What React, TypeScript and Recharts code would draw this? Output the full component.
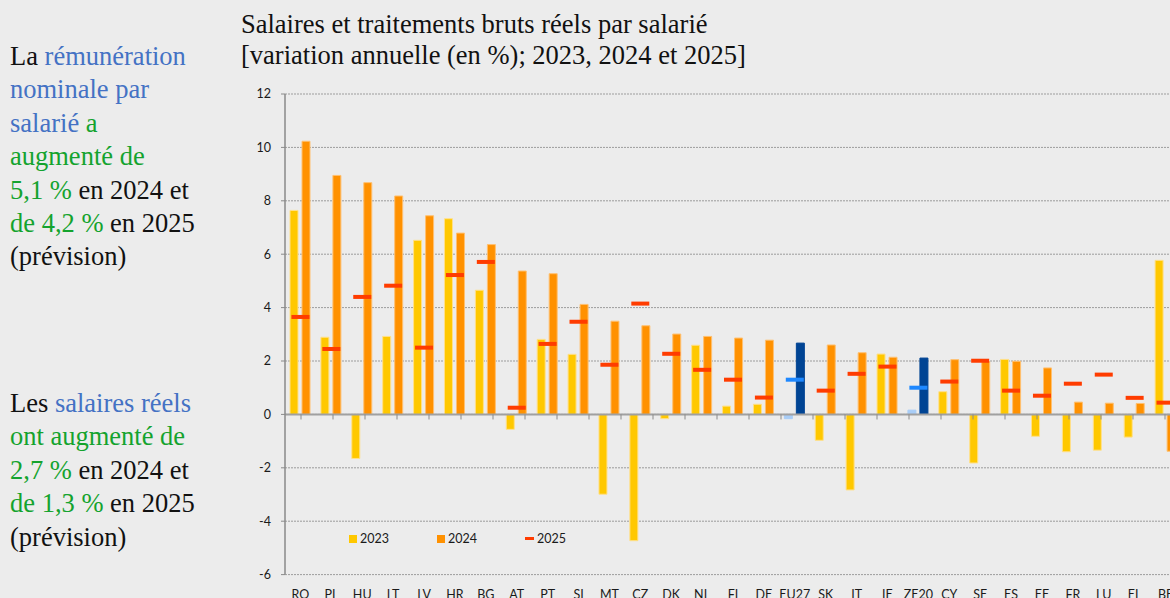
import {
  ComposedChart,
  Bar,
  Line,
  Cell,
  XAxis,
  YAxis,
  CartesianGrid,
  ReferenceLine,
} from 'recharts';

const categories = [
  'RO', 'PL', 'HU', 'LT', 'LV', 'HR', 'BG', 'AT', 'PT', 'SI', 'MT', 'CZ', 'DK', 'NL', 'FI',
  'DE', 'EU27', 'SK', 'IT', 'IE', 'ZE20', 'CY', 'SE', 'ES', 'EE', 'FR', 'LU', 'EL', 'BE',
];
const growth2023 = [
  7.64, 2.89, -1.65, 2.92, 6.52, 7.33, 4.65, -0.56, 2.81, 2.25, -2.99, -4.73, -0.16, 2.59, 0.31,
  0.38, -0.16, -0.97, -2.83, 2.26, 0.16, 0.85, -1.82, 2.06, -0.82, -1.4, -1.34, -0.85, 5.77,
];
const growth2024 = [
  10.23, 8.95, 8.68, 8.18, 7.44, 6.79, 6.36, 5.37, 5.27, 4.12, 3.49, 3.32, 3.01, 2.92, 2.86,
  2.78, 2.67, 2.6, 2.31, 2.14, 2.11, 2.05, 1.98, 1.99, 1.74, 0.46, 0.42, 0.41, -1.38,
];
const growth2025 = [
  3.65, 2.45, 4.4, 4.82, 2.5, 5.22, 5.71, 0.25, 2.64, 3.47, 1.86, 4.15, 2.27, 1.67, 1.3,
  0.63, 1.3, 0.89, 1.52, 1.79, 1.0, 1.23, 2.01, 0.89, 0.7, 1.15, 1.49, 0.62, 0.44,
];
const aggregates = ['EU27', 'ZE20'];
const yTicks = [-6, -4, -2, 0, 2, 4, 6, 8, 10, 12];
const legendLabels = ['2023', '2024', '2025'];

const data = categories.map((c, i) => ({
  name: c,
  y2023: growth2023[i],
  y2024: growth2024[i],
  y2025: growth2025[i],
}));

// tick marks between categories on the zero line (hidden numeric axis)
const boundaries = categories.slice(1).map((_, i) => i + 0.5);

const YELLOW = '#ffc800';
const ORANGE = '#ff9100';
const RED = '#ff3c00';
const LIGHT_BLUE = '#a8cdf7';
const DARK_BLUE = '#004494';
const MID_BLUE = '#1e88ff';
const BLUE_TXT = '#4472c4';
const GREEN_TXT = '#14a32e';

const isAgg = (name: string) => aggregates.includes(name);

function Dash(props: any) {
  const { cx, cy, payload, index } = props;
  if (cx == null || cy == null) return <g key={index} />;
  return (
    <rect
      key={index}
      x={cx - 9}
      y={cy - 2}
      width={18}
      height={4}
      fill={isAgg(payload.name) ? MID_BLUE : RED}
    />
  );
}

function LegendBox() {
  const swatches = [
    <div style={{ width: 8, height: 8, background: YELLOW }} />,
    <div style={{ width: 8, height: 8, background: ORANGE }} />,
    <div style={{ width: 9, height: 3, background: RED }} />,
  ];
  return (
    <div
      style={{
        position: 'absolute',
        left: 349,
        top: 531,
        display: 'flex',
        fontFamily: 'Lato',
        fontSize: 12.5,
        color: '#1a1a1a',
      }}
    >
      {legendLabels.map((l, i) => (
        <div key={l} style={{ display: 'flex', alignItems: 'center', width: 88 }}>
          {swatches[i]}
          <span style={{ marginLeft: 3 }}>{l}</span>
        </div>
      ))}
    </div>
  );
}

const blue = (t: string) => <span style={{ color: BLUE_TXT }}>{t}</span>;
const green = (t: string) => <span style={{ color: GREEN_TXT }}>{t}</span>;

const serif = {
  fontFamily: '"Liberation Serif", "Times New Roman", serif',
  fontSize: 26.5,
  color: '#111',
};

export default function App() {
  return (
    <div
      style={{
        position: 'absolute',
        left: 0,
        top: 0,
        width: 1170,
        height: 598,
        overflow: 'hidden',
        background: '#ececec',
      }}
    >
      <div style={{ ...serif, position: 'absolute', left: 241, top: 9, lineHeight: '30.5px', whiteSpace: 'nowrap' }}>
        Salaires et traitements bruts réels par salarié
        <br />
        [variation annuelle (en %); 2023, 2024 et 2025]
      </div>

      <div style={{ ...serif, position: 'absolute', left: 10, top: 40, lineHeight: '33.4px', whiteSpace: 'nowrap' }}>
        La {blue('rémunération')}
        <br />
        {blue('nominale par')}
        <br />
        {blue('salarié')} {green('a')}
        <br />
        {green('augmenté de')}
        <br />
        {green('5,1\u00a0%')} en 2024 et
        <br />
        {green('de 4,2\u00a0%')} en 2025
        <br />
        (prévision)
      </div>

      <div style={{ ...serif, position: 'absolute', left: 10, top: 387, lineHeight: '33.4px', whiteSpace: 'nowrap' }}>
        Les {blue('salaires réels')}
        <br />
        {green('ont augmenté de')}
        <br />
        {green('2,7\u00a0%')} en 2024 et
        <br />
        {green('de 1,3\u00a0%')} en 2025
        <br />
        (prévision)
      </div>

      <ComposedChart
        width={1185}
        height={598}
        data={data}
        margin={{ top: 94, right: 4, bottom: 0, left: 0 }}
        style={{ position: 'absolute', left: 0, top: 0, fontFamily: 'Lato' }}
      >
        <CartesianGrid vertical={false} stroke="#9c9c9c" strokeDasharray="2 1" />
        <XAxis
          dataKey="name"
          height={23.4}
          axisLine={false}
          tickLine={false}
          tickSize={0}
          tickMargin={16}
          interval={0}
          tick={{ fill: '#1a1a1a', fontSize: 12.5 }}
        />
        <XAxis xAxisId="num" type="number" domain={[-0.5, categories.length - 0.5]} allowDataOverflow hide />
        <YAxis
          width={285}
          domain={[-6, 12]}
          ticks={yTicks}
          interval={0}
          axisLine={{ stroke: '#8a8a8a', strokeWidth: 1.5 }}
          tickLine={{ stroke: '#8a8a8a' }}
          tickSize={4}
          tickMargin={10}
          tick={{ fill: '#1a1a1a', fontSize: 12.5 }}
        />
        <ReferenceLine y={0} stroke="#a0a0a0" strokeWidth={2} />
        {boundaries.map((b) => (
          <ReferenceLine
            key={b}
            xAxisId="num"
            segment={[{ x: b, y: 0 }, { x: b, y: -0.19 }]}
            stroke="#8a8a8a"
            strokeWidth={1}
          />
        ))}
        <Bar dataKey="y2023" barSize={8} stroke="#ffe08a" strokeWidth={1} isAnimationActive={false}>
          {data.map((d) => (
            <Cell key={d.name} fill={isAgg(d.name) ? LIGHT_BLUE : YELLOW} stroke={isAgg(d.name) ? LIGHT_BLUE : '#ffe08a'} />
          ))}
        </Bar>
        <Bar dataKey="y2024" barSize={8} stroke="#ffc070" strokeWidth={1} isAnimationActive={false}>
          {data.map((d) => (
            <Cell key={d.name} fill={isAgg(d.name) ? DARK_BLUE : ORANGE} stroke={isAgg(d.name) ? DARK_BLUE : '#ffc070'} />
          ))}
        </Bar>
        <Line
          dataKey="y2025"
          stroke="none"
          dot={<Dash />}
          activeDot={false}
          isAnimationActive={false}
        />
      </ComposedChart>
      <LegendBox />
    </div>
  );
}
